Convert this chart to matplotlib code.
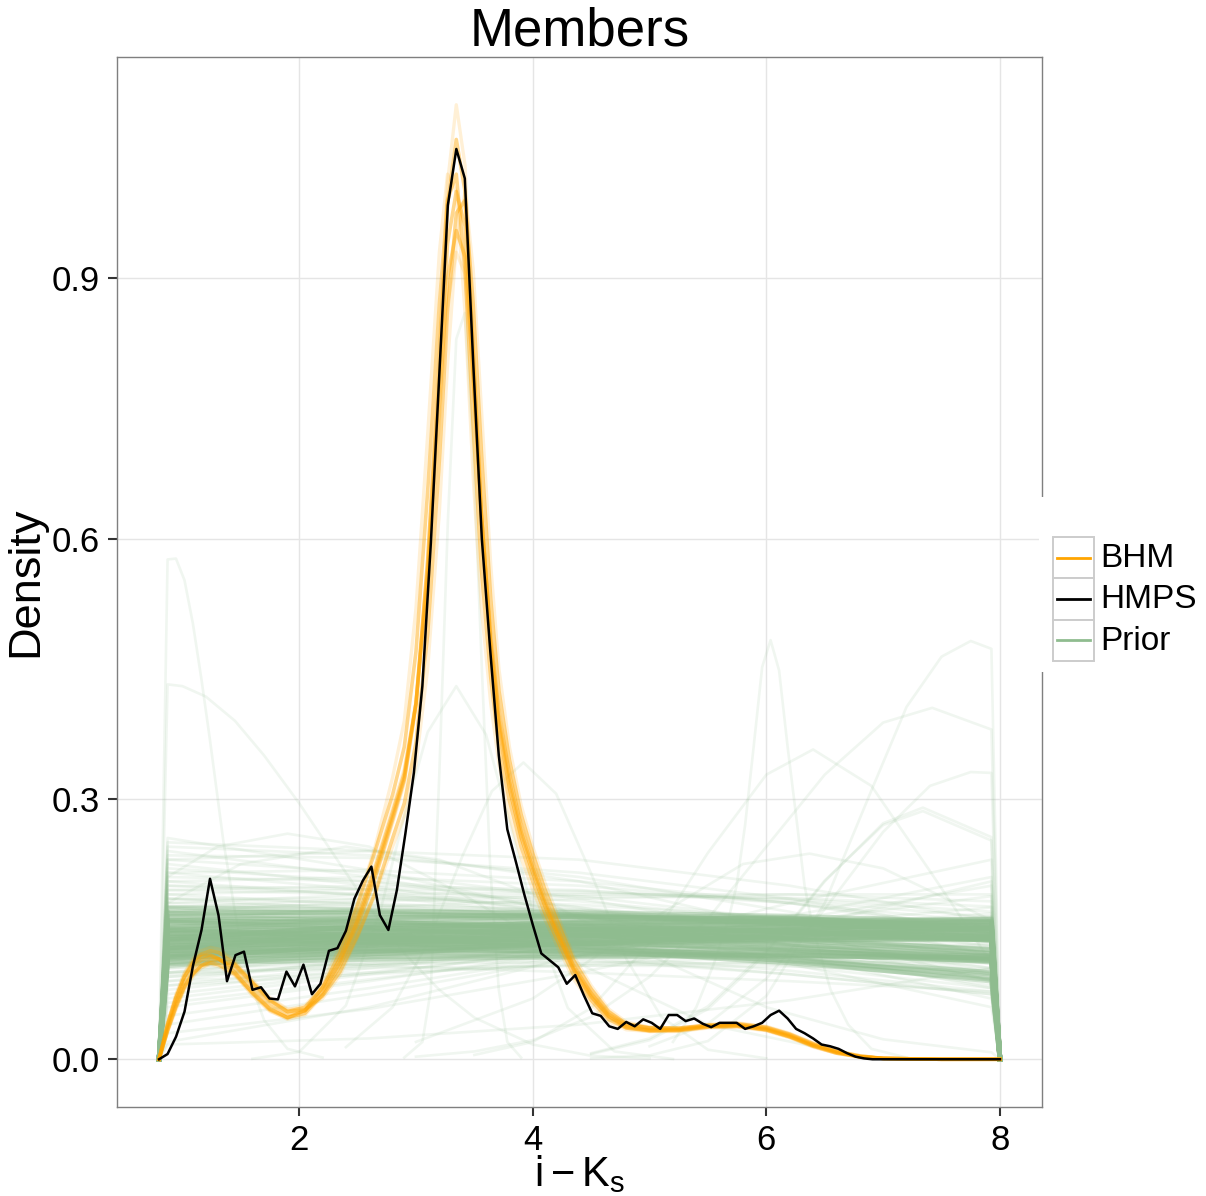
import numpy as np
import matplotlib
matplotlib.use("Agg")
import matplotlib.pyplot as plt
from matplotlib.patches import Rectangle
from matplotlib.lines import Line2D

# ---------------------------------------------------------------- data
# HMPS density on its evaluation grid (100 points, 0.8 .. 8.0)
HMPS_X = np.linspace(0.8, 8.0, 100)
HMPS_Y = [0.000, 0.006, 0.026, 0.055, 0.108, 0.149, 0.208, 0.166, 0.090, 0.120,
          0.124, 0.080, 0.083, 0.070, 0.069, 0.101, 0.084, 0.109, 0.075, 0.087,
          0.125, 0.128, 0.148, 0.185, 0.206, 0.222, 0.166, 0.149, 0.195, 0.260,
          0.330, 0.430, 0.595, 0.790, 0.984, 1.049, 1.015, 0.800, 0.600, 0.470,
          0.350, 0.265, 0.228, 0.190, 0.155, 0.122, 0.114, 0.106, 0.087, 0.097,
          0.074, 0.053, 0.050, 0.038, 0.035, 0.043, 0.038, 0.046, 0.042, 0.035,
          0.051, 0.051, 0.044, 0.047, 0.041, 0.037, 0.042, 0.042, 0.042, 0.035,
          0.038, 0.042, 0.051, 0.056, 0.047, 0.035, 0.030, 0.024, 0.017, 0.015,
          0.012, 0.007, 0.003, 0.001, 0.000, 0.000, 0.000, 0.000, 0.000, 0.000,
          0.000, 0.000, 0.000, 0.000, 0.000, 0.000, 0.000, 0.000, 0.000, 0.000]

# BHM posterior member densities
BHM_X = [0.800, 0.873, 0.945, 1.018, 1.090, 1.160, 1.240, 1.310, 1.450, 1.600,
         1.750, 1.900, 2.050, 2.200, 2.350, 2.500, 2.650, 2.800, 2.900, 3.000,
         3.100, 3.200, 3.270, 3.345, 3.420, 3.490, 3.560, 3.640, 3.710, 3.800,
         3.900, 4.000, 4.100, 4.200, 4.350, 4.500, 4.650, 4.800, 5.000, 5.250,
         5.500, 5.750, 6.000, 6.200, 6.400, 6.600, 6.800, 7.000, 7.500, 8.000]
BHM_CORE = [
    [0, .037, .066, .090, .105, .114, .118, .116, .104, .082, .062, .051, .056, .078, .112, .160, .215, .280, .325, .410,
     .565, .780, .940, 1.000, .960, .800, .630, .480, .390, .320, .262, .220, .182, .150, .105, .074, .050, .038, .034, .034,
     .038, .039, .035, .027, .016, .008, .003, .001, 0, 0],
    [0, .034, .062, .085, .099, .108, .111, .109, .098, .077, .058, .048, .053, .075, .108, .155, .210, .276, .322, .410,
     .575, .805, .985, 1.060, 1.000, .815, .630, .475, .382, .312, .256, .215, .178, .147, .103, .072, .049, .037, .033, .033,
     .037, .038, .034, .026, .016, .008, .003, .001, 0, 0],
    [0, .040, .071, .096, .112, .121, .125, .123, .110, .088, .067, .055, .060, .082, .116, .165, .220, .285, .330, .410,
     .555, .755, .900, .955, .925, .785, .628, .485, .397, .328, .268, .225, .186, .153, .107, .076, .052, .040, .036, .036,
     .039, .040, .036, .028, .017, .009, .003, .001, 0, 0],
    [0, .040, .071, .095, .110, .118, .120, .116, .100, .076, .057, .048, .056, .083, .123, .178, .240, .305, .360, .470,
     .655, .870, .990, 1.020, .910, .730, .565, .440, .360, .298, .245, .205, .170, .140, .097, .068, .046, .036, .033, .034,
     .038, .039, .034, .026, .015, .007, .003, .001, 0, 0],
    [0, .033, .060, .083, .098, .108, .114, .115, .108, .088, .068, .055, .057, .073, .101, .143, .192, .255, .295, .365,
     .490, .690, .860, .975, .990, .870, .700, .530, .425, .345, .282, .237, .197, .163, .114, .081, .055, .041, .036, .035,
     .039, .041, .037, .029, .018, .009, .004, .001, 0, 0],
]
BHM_OUTER = [
    [0, .033, .060, .083, .097, .106, .109, .107, .096, .075, .056, .046, .051, .073, .106, .152, .207, .272, .318, .405,
     .575, .815, 1.010, 1.100, 1.030, .830, .635, .478, .383, .312, .255, .214, .177, .146, .102, .071, .048, .036, .032, .032,
     .036, .037, .033, .025, .015, .007, .003, .001, 0, 0],
    [0, .042, .074, .100, .116, .125, .129, .127, .113, .090, .069, .057, .062, .084, .118, .168, .224, .290, .335, .412,
     .545, .735, .870, .930, .905, .780, .630, .490, .402, .334, .273, .229, .189, .155, .109, .078, .054, .041, .037, .036,
     .040, .041, .037, .029, .018, .009, .004, .001, 0, 0],
    [0, .042, .075, .099, .113, .120, .121, .116, .098, .073, .055, .047, .057, .088, .130, .180, .245, .325, .390, .520,
     .720, .930, 1.020, 1.000, .860, .670, .520, .410, .340, .280, .232, .195, .162, .133, .092, .064, .043, .034, .032, .033,
     .037, .038, .033, .025, .014, .007, .002, .001, 0, 0],
    [0, .031, .057, .080, .095, .105, .111, .113, .109, .091, .071, .058, .058, .070, .097, .140, .190, .245, .280, .340,
     .450, .630, .800, .940, 1.000, .910, .750, .570, .450, .360, .293, .245, .205, .170, .119, .085, .058, .043, .037, .036,
     .040, .042, .038, .030, .019, .010, .004, .001, 0, 0],
]

# Prior member densities: near-flat draws, values at PRIOR_X interior nodes,
# with zero density at the support boundaries 0.8 and 8.0
PRIOR_X = [0.873, 2.600, 4.400, 6.200, 7.927]
SUPPORT = [0.800, 8.000]
BOUNDARY_DENSITY = 0.0
PRIOR_CORE = [
    [0.140, 0.142, 0.143, 0.142, 0.139], [0.135, 0.139, 0.141, 0.141, 0.138],
    [0.145, 0.147, 0.147, 0.145, 0.141], [0.130, 0.135, 0.139, 0.140, 0.139],
    [0.150, 0.151, 0.150, 0.147, 0.142], [0.125, 0.131, 0.136, 0.138, 0.138],
    [0.155, 0.155, 0.153, 0.148, 0.141], [0.120, 0.127, 0.133, 0.137, 0.139],
    [0.160, 0.158, 0.154, 0.147, 0.137], [0.117, 0.125, 0.133, 0.139, 0.143],
    [0.150, 0.148, 0.144, 0.137, 0.127], [0.145, 0.143, 0.139, 0.132, 0.122],
    [0.160, 0.156, 0.149, 0.139, 0.126], [0.138, 0.137, 0.134, 0.128, 0.118],
    [0.155, 0.150, 0.143, 0.133, 0.119], [0.165, 0.159, 0.150, 0.138, 0.122],
    [0.142, 0.139, 0.134, 0.126, 0.114], [0.132, 0.132, 0.130, 0.125, 0.116],
    [0.148, 0.143, 0.136, 0.126, 0.112], [0.158, 0.152, 0.143, 0.131, 0.115],
    [0.120, 0.130, 0.138, 0.144, 0.148], [0.128, 0.136, 0.143, 0.148, 0.151],
    [0.112, 0.124, 0.135, 0.143, 0.150], [0.135, 0.142, 0.148, 0.152, 0.154],
    [0.118, 0.131, 0.142, 0.150, 0.156], [0.125, 0.136, 0.146, 0.153, 0.158],
    [0.140, 0.147, 0.153, 0.157, 0.159], [0.108, 0.121, 0.133, 0.143, 0.152],
    [0.130, 0.141, 0.150, 0.157, 0.162], [0.145, 0.152, 0.157, 0.160, 0.161],
    [0.130, 0.145, 0.152, 0.150, 0.138], [0.140, 0.153, 0.158, 0.155, 0.143],
    [0.120, 0.137, 0.147, 0.147, 0.137], [0.148, 0.160, 0.164, 0.160, 0.148],
    [0.125, 0.142, 0.152, 0.153, 0.144], [0.135, 0.150, 0.158, 0.158, 0.148],
    [0.115, 0.133, 0.145, 0.148, 0.142], [0.152, 0.163, 0.167, 0.163, 0.151],
    [0.128, 0.146, 0.157, 0.159, 0.151], [0.138, 0.155, 0.163, 0.162, 0.152],
    [0.115, 0.118, 0.120, 0.120, 0.117], [0.110, 0.115, 0.118, 0.119, 0.117],
    [0.122, 0.124, 0.125, 0.123, 0.119], [0.118, 0.121, 0.122, 0.120, 0.114],
    [0.125, 0.126, 0.125, 0.121, 0.113], [0.165, 0.166, 0.165, 0.161, 0.154],
    [0.170, 0.168, 0.164, 0.157, 0.147], [0.160, 0.163, 0.164, 0.162, 0.157],
    [0.168, 0.170, 0.169, 0.165, 0.158], [0.175, 0.172, 0.166, 0.157, 0.145],
    [0.135, 0.134, 0.129, 0.118, 0.100], [0.145, 0.140, 0.131, 0.116, 0.095],
    [0.128, 0.128, 0.124, 0.114, 0.098], [0.150, 0.142, 0.130, 0.113, 0.090],
    [0.140, 0.135, 0.126, 0.111, 0.092],
]
PRIOR_SPREAD = [
    [0.175, 0.168, 0.158, 0.145, 0.128], [0.100, 0.118, 0.134, 0.145, 0.152],
    [0.190, 0.178, 0.163, 0.144, 0.120], [0.085, 0.108, 0.130, 0.148, 0.162],
    [0.205, 0.188, 0.165, 0.138, 0.105], [0.170, 0.170, 0.165, 0.155, 0.140],
    [0.095, 0.112, 0.128, 0.138, 0.142], [0.215, 0.195, 0.166, 0.132, 0.092],
    [0.070, 0.098, 0.128, 0.155, 0.175], [0.180, 0.176, 0.168, 0.154, 0.135],
    [0.110, 0.126, 0.140, 0.150, 0.155], [0.225, 0.200, 0.165, 0.125, 0.082],
    [0.060, 0.090, 0.125, 0.158, 0.188], [0.185, 0.185, 0.178, 0.163, 0.140],
    [0.105, 0.122, 0.138, 0.150, 0.158], [0.240, 0.210, 0.168, 0.120, 0.070],
    [0.050, 0.082, 0.120, 0.160, 0.200], [0.165, 0.172, 0.172, 0.165, 0.150],
    [0.090, 0.116, 0.140, 0.156, 0.162], [0.255, 0.218, 0.165, 0.110, 0.060],
    [0.040, 0.075, 0.118, 0.165, 0.210], [0.195, 0.190, 0.175, 0.152, 0.122],
    [0.098, 0.110, 0.120, 0.128, 0.132], [0.170, 0.160, 0.148, 0.132, 0.112],
    [0.080, 0.105, 0.130, 0.152, 0.168], [0.200, 0.196, 0.182, 0.160, 0.130],
    [0.120, 0.140, 0.155, 0.160, 0.155], [0.160, 0.160, 0.155, 0.146, 0.132],
    [0.075, 0.100, 0.125, 0.145, 0.160], [0.230, 0.215, 0.185, 0.145, 0.100],
    [0.125, 0.145, 0.160, 0.165, 0.160], [0.185, 0.172, 0.155, 0.132, 0.105],
    [0.065, 0.092, 0.120, 0.145, 0.165], [0.210, 0.205, 0.188, 0.160, 0.122],
    [0.110, 0.115, 0.118, 0.118, 0.115], [0.020, 0.060, 0.120, 0.180, 0.230],
    [0.175, 0.178, 0.172, 0.158, 0.138], [0.135, 0.150, 0.160, 0.162, 0.156],
    [0.250, 0.240, 0.205, 0.150, 0.090], [0.030, 0.058, 0.100, 0.150, 0.205],
    [0.100, 0.120, 0.135, 0.142, 0.140], [0.160, 0.150, 0.140, 0.128, 0.110],
    [0.220, 0.205, 0.175, 0.138, 0.098], [0.115, 0.108, 0.100, 0.090, 0.078],
    [0.150, 0.135, 0.118, 0.098, 0.075], [0.017, 0.024, 0.040, 0.068, 0.105],
    [0.185, 0.180, 0.170, 0.155, 0.135], [0.195, 0.200, 0.195, 0.180, 0.158],
    [0.180, 0.190, 0.192, 0.185, 0.170], [0.205, 0.210, 0.200, 0.180, 0.150],
    [0.170, 0.182, 0.188, 0.186, 0.176], [0.190, 0.196, 0.194, 0.183, 0.164],
    [0.215, 0.218, 0.205, 0.180, 0.145], [0.175, 0.185, 0.190, 0.190, 0.182],
    [0.200, 0.190, 0.172, 0.148, 0.118], [0.160, 0.175, 0.185, 0.190, 0.190],
    [0.090, 0.100, 0.108, 0.112, 0.112], [0.095, 0.108, 0.118, 0.124, 0.125],
    [0.085, 0.098, 0.110, 0.118, 0.121], [0.100, 0.105, 0.108, 0.107, 0.102],
    [0.105, 0.110, 0.112, 0.110, 0.104], [0.170, 0.160, 0.146, 0.126, 0.100],
    [0.160, 0.152, 0.138, 0.118, 0.092], [0.150, 0.142, 0.128, 0.108, 0.082],
    [0.175, 0.162, 0.143, 0.118, 0.085], [0.140, 0.133, 0.121, 0.102, 0.078],
    [0.130, 0.125, 0.115, 0.098, 0.075], [0.120, 0.130, 0.140, 0.148, 0.152],
    [0.245, 0.235, 0.210, 0.170, 0.120], [0.235, 0.232, 0.215, 0.185, 0.145],
    [0.230, 0.240, 0.230, 0.200, 0.160],
]

# Prior draws with a pronounced mode
PRIOR_PEAK_X = [
    [0.800, 0.873, 0.945, 1.018, 1.090, 1.164, 1.236, 1.350, 1.450, 1.550, 1.700, 1.900, 2.200],
    [0.800, 0.873, 1.000, 1.200, 1.450, 1.700, 2.000, 2.300, 2.600, 2.900, 3.200, 3.500, 4.000, 4.500, 5.000],
    [1.600, 2.000, 2.400, 2.700, 2.900, 3.100, 3.345, 3.600, 3.800, 4.000, 4.300, 4.700, 5.200],
    [2.900, 3.055, 3.127, 3.200, 3.273, 3.345, 3.418, 3.491, 3.564, 3.636, 3.709, 3.782, 3.900],
    [2.400, 2.800, 3.100, 3.400, 3.650, 3.920, 4.200, 4.500, 4.800, 5.100, 5.500, 6.000],
    [5.200, 5.400, 5.550, 5.673, 5.745, 5.818, 5.891, 5.964, 6.036, 6.109, 6.182, 6.255, 6.327, 6.400,
     6.550, 6.700, 6.900, 7.200],
    [4.500, 5.000, 5.500, 6.000, 6.500, 6.900, 7.200, 7.500, 7.750, 7.927, 8.000],
    [3.000, 3.500, 4.000, 4.500, 5.000, 5.500, 6.000, 6.500, 7.000, 7.420, 7.927, 8.000],
    [3.500, 4.000, 4.500, 5.000, 5.500, 6.000, 6.400, 6.900, 7.400, 7.927, 8.000],
    [5.000, 5.500, 6.000, 6.500, 7.000, 7.400, 7.750, 7.927, 8.000],
    [4.500, 5.000, 5.500, 6.000, 6.500, 7.000, 7.340, 7.927, 8.000],
    [4.500, 5.000, 5.500, 6.000, 6.500, 7.000, 7.340, 7.927, 8.000],
    [3.000, 4.000, 5.000, 5.800, 6.370, 7.000, 7.927, 8.000],
    [0.800, 0.873, 1.300, 1.900, 2.600, 3.400, 4.400, 5.500, 6.500],
    [0.800, 0.873, 1.500, 2.400, 3.200, 4.000, 5.000, 6.000, 7.000, 7.927, 8.000],
]
PRIOR_PEAK_Y = [
    [0, 0.576, 0.577, 0.552, 0.502, 0.437, 0.368, 0.252, 0.170, 0.100, 0.045, 0.012, 0.002],
    [0, 0.432, 0.430, 0.418, 0.390, 0.350, 0.295, 0.235, 0.175, 0.122, 0.080, 0.048, 0.017, 0.004, 0.001],
    [0.0006, 0.0085, 0.062, 0.174, 0.280, 0.377, 0.430, 0.374, 0.274, 0.169, 0.059, 0.009, 0.0003],
    [0.002, 0.020, 0.080, 0.330, 0.620, 0.830, 0.860, 0.700, 0.450, 0.220, 0.080, 0.020, 0.002],
    [0.014, 0.060, 0.134, 0.235, 0.309, 0.342, 0.306, 0.214, 0.116, 0.049, 0.011, 0.001],
    [0.020, 0.060, 0.110, 0.160, 0.200, 0.270, 0.360, 0.452, 0.483, 0.448, 0.360, 0.280, 0.200, 0.150,
     0.080, 0.040, 0.012, 0.002],
    [0.001, 0.0045, 0.021, 0.073, 0.180, 0.310, 0.406, 0.464, 0.482, 0.473, 0],
    [0.003, 0.009, 0.022, 0.049, 0.095, 0.162, 0.245, 0.328, 0.388, 0.405, 0.380, 0],
    [0.005, 0.020, 0.059, 0.134, 0.238, 0.328, 0.357, 0.315, 0.217, 0.111, 0],
    [0.015, 0.041, 0.093, 0.173, 0.262, 0.315, 0.331, 0.330, 0],
    [0.006, 0.022, 0.058, 0.122, 0.205, 0.272, 0.290, 0.256, 0],
    [0.007, 0.024, 0.061, 0.125, 0.206, 0.270, 0.286, 0.252, 0],
    [0.020, 0.070, 0.160, 0.225, 0.237, 0.220, 0.160, 0],
    [0, 0.210, 0.245, 0.260, 0.245, 0.190, 0.110, 0.040, 0.012],
    [0, 0.180, 0.225, 0.245, 0.230, 0.190, 0.120, 0.060, 0.023, 0.008, 0],
]

X_TICKS = [2, 4, 6, 8]
Y_TICKS = [0.0, 0.3, 0.6, 0.9]
Y_TICK_LABELS = ["0.0", "0.3", "0.6", "0.9"]
SERIES = ["BHM", "HMPS", "Prior"]
COLORS = {"BHM": "#FFA500", "HMPS": "#000000", "Prior": "#8FBC8F"}

# ---------------------------------------------------------------- figure
plt.rcParams["font.family"] = ["Liberation Sans", "DejaVu Sans"]
plt.rcParams["mathtext.fontset"] = "custom"
plt.rcParams["mathtext.rm"] = "Liberation Sans"
plt.rcParams["mathtext.it"] = "Liberation Sans"

W, H = 1206, 1196
fig = plt.figure(figsize=(W / 100, H / 100), dpi=100)
fig.patch.set_facecolor("white")
L, R, T, B = 117, 1042, 57, 1107
ax = fig.add_axes([L / W, (H - B) / H, (R - L) / W, (B - T) / H])

green = COLORS["Prior"]

def prior_line(vals):
    xs = [SUPPORT[0]] + PRIOR_X + [SUPPORT[1]]
    ys = [BOUNDARY_DENSITY] + list(vals) + [BOUNDARY_DENSITY]
    return xs, ys

for vals in PRIOR_SPREAD:
    xs, ys = prior_line(vals)
    ax.plot(xs, ys, color=green, alpha=0.13, lw=1.9, solid_joinstyle="round")
for px, py in zip(PRIOR_PEAK_X, PRIOR_PEAK_Y):
    ax.plot(px, py, color=green, alpha=0.13, lw=1.9, solid_joinstyle="round")
for vals in PRIOR_CORE:
    xs, ys = prior_line(vals)
    ax.plot(xs, ys, color=green, alpha=0.42, lw=3.4, solid_joinstyle="round")

for ys in BHM_OUTER:
    ax.plot(BHM_X, ys, color=COLORS["BHM"], alpha=0.16, lw=2.4)
for ys in BHM_CORE:
    ax.plot(BHM_X, ys, color=COLORS["BHM"], alpha=0.45, lw=2.6)

ax.plot(HMPS_X, HMPS_Y, color=COLORS["HMPS"], lw=1.8)

ax.set_xlim(0.44, 8.36)
ax.set_ylim(-0.055, 1.155)
ax.set_xticks(X_TICKS)
ax.set_yticks(Y_TICKS)
ax.set_yticklabels(Y_TICK_LABELS)
ax.grid(True, color="#E5E5E5", lw=1.0)
ax.set_axisbelow(True)
for s in ax.spines.values():
    s.set_color("#7F7F7F")
    s.set_linewidth(1.0)
ax.tick_params(axis="both", length=6.5, width=1.5, color="#333333",
               labelsize=25, labelcolor="black", pad=6)

ax.set_title("Members", fontsize=38, pad=6)
ax.set_ylabel("Density", fontsize=32.5, labelpad=4)
ax.set_xlabel(r"$\mathregular{i - K_s}$", fontsize=30, labelpad=-3)

# ---------------------------------------------------------------- legend
lax = fig.add_axes([1039 / W, (H - 672) / H, (W - 1039) / W, (672 - 497) / H])
lax.set_xlim(0, W - 1039)
lax.set_ylim(672 - 497, 0)
lax.set_facecolor("white")
for s in lax.spines.values():
    s.set_visible(False)
lax.set_xticks([])
lax.set_yticks([])
for i, name in enumerate(SERIES):
    top = 40 + i * 41.3
    lax.add_patch(Rectangle((13.7, top), 41.3, 41.3, facecolor="white",
                            edgecolor="#CCCCCC", lw=1.4))
    lax.add_line(Line2D([18, 51], [top + 20.6, top + 20.6], color=COLORS[name], lw=2.0))
    lax.text(61, top + 21.5, name, fontsize=24, va="center", ha="left")

fig.savefig("out.png", dpi=100, facecolor="white")
